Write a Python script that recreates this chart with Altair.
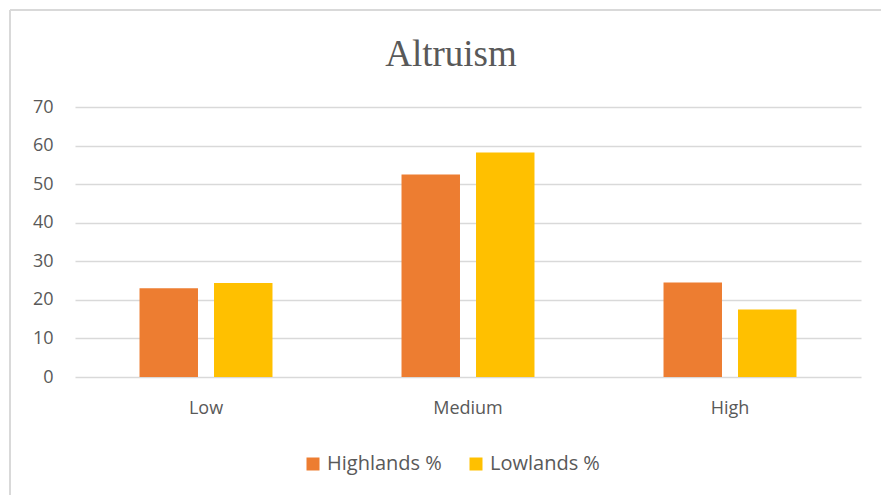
import altair as alt
import pandas as pd

levels = ["Low", "Medium", "High"]
series = ["Highlands %", "Lowlands %"]
highlands = [23.0, 52.5, 24.5]
lowlands = [24.4, 58.2, 17.5]
colors = ["#ED7D31", "#FFC000"]
title_text = "Altruism"

rows = []
for i, lvl in enumerate(levels):
    rows.append({"level": lvl, "region": series[0], "pct": highlands[i]})
    rows.append({"level": lvl, "region": series[1], "pct": lowlands[i]})
df = pd.DataFrame(rows)

W, H = 786, 270

bars = alt.Chart(df).mark_bar().encode(
    x=alt.X("level:N", sort=levels, title=None,
            scale=alt.Scale(paddingInner=0, paddingOuter=0),
            axis=alt.Axis(labelAngle=0, labelFontSize=18, labelFont="Open Sans",
                          labelColor="#595959", labelPadding=22, ticks=False,
                          domain=False, grid=False)),
    xOffset=alt.XOffset("region:N", sort=series,
                        scale=alt.Scale(paddingInner=0.215, paddingOuter=0.866)),
    y=alt.Y("pct:Q", title=None,
            scale=alt.Scale(domain=[0, 70], nice=False),
            axis=alt.Axis(values=list(range(0, 71, 10)), labelFontSize=18,
                          labelFont="Open Sans", labelColor="#595959",
                          labelPadding=22, ticks=False, domain=False,
                          gridColor="#D9D9D9", gridWidth=1.5)),
    color=alt.Color("region:N", sort=series,
                    scale=alt.Scale(domain=series, range=colors),
                    legend=alt.Legend(title=None, orient="none", direction="horizontal",
                                      legendX=228, legendY=347, symbolType="square",
                                      symbolSize=169, symbolStrokeWidth=0,
                                      labelFontSize=20, labelFont="Open Sans",
                                      labelColor="#595959", labelOffset=4,
                                      columnPadding=24)),
)

# outer chart frame (left and top edges)
frame_left = alt.Chart(df).mark_rule(color="#D9D9D9", strokeWidth=1.5).encode(
    x=alt.value(-65), y=alt.value(-97), y2=alt.value(400))
frame_top = alt.Chart(df).mark_rule(color="#D9D9D9", strokeWidth=1.5).encode(
    x=alt.value(-65), x2=alt.value(820), y=alt.value(-97))

# chart heading
heading = alt.Chart(pd.DataFrame({"t": [title_text]})).mark_text(
    font="Liberation Serif", fontSize=37, color="#595959",
    align="center", baseline="alphabetic",
).encode(text="t:N", x=alt.value(376), y=alt.value(-41))

chart = alt.layer(frame_left, frame_top, bars, heading).properties(
    width=W, height=H,
    autosize=alt.AutoSizeParams(type="none"),
    padding={"left": 75, "top": 107, "right": 20, "bottom": 118},
).configure_view(stroke=None)

chart.save("out.html", embed_options={"renderer": "svg", "actions": False})
